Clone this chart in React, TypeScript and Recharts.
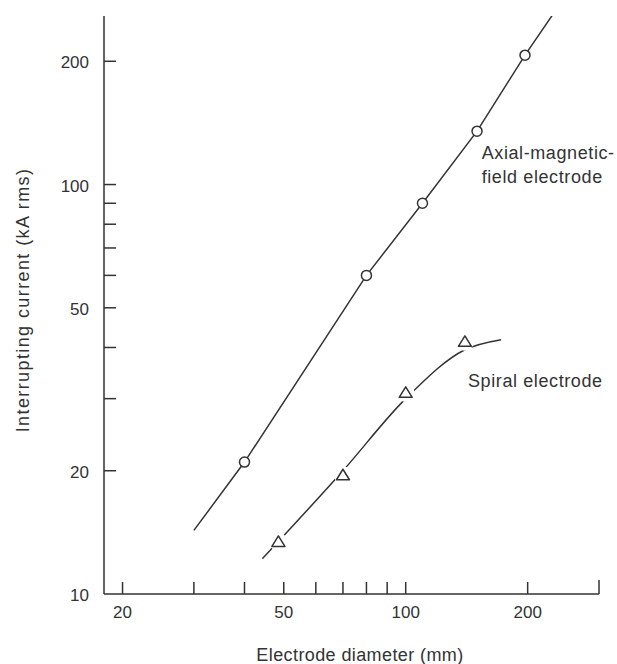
import React from 'react';
import { ComposedChart, Line, Scatter, XAxis, YAxis, ReferenceDot } from 'recharts';

// ---- data ----
const xTicks = [20, 30, 40, 50, 60, 70, 80, 90, 100, 200, 300];
const xLabeled = [20, 50, 100, 200];
const yTicks = [10, 20, 30, 40, 50, 60, 70, 80, 90, 100, 200];
const yLabeled = [10, 20, 50, 100, 200];

const axialPoints = [
  { x: 40, y: 21 },
  { x: 80, y: 60 },
  { x: 110, y: 90 },
  { x: 150, y: 135 },
  { x: 197, y: 207 },
];
const axialLine = [
  { x: 30, y: 14.3 },
  { x: 40, y: 21 },
  { x: 80, y: 60 },
  { x: 110, y: 90 },
  { x: 150, y: 135 },
  { x: 197, y: 207 },
  { x: 230, y: 259 },
];
const spiralPoints = [
  { x: 48.5, y: 13.4 },
  { x: 70, y: 19.5 },
  { x: 100, y: 31 },
  { x: 140, y: 41.3 },
];
const spiralLine = [
  { x: 44.3, y: 12.2 },
  { x: 70, y: 20 },
  { x: 100, y: 30 },
  { x: 140, y: 39.5 },
  { x: 172, y: 41.8 },
];

const axialLabelAt = { x: 154, y: 115.4 };
const spiralLabelAt = { x: 142.5, y: 32 };

const INK = '#333';
const FONT = "'Liberation Sans', Arial, sans-serif";

const XTick = (props: any) => {
  const { x, y, payload } = props;
  const v = payload.value;
  const len = v === 300 ? 14 : 12;
  return (
    <g>
      <line x1={x} y1={y} x2={x} y2={y - len} stroke={INK} strokeWidth={1.5} />
      {xLabeled.includes(v) && (
        <text x={x} y={y + 24} textAnchor="middle" fontSize={17} fontFamily={FONT} fill={INK}>
          {v}
        </text>
      )}
    </g>
  );
};

const YTick = (props: any) => {
  const { x, y, payload } = props;
  const v = payload.value;
  return (
    <g>
      {v !== 10 && <line x1={x} y1={y} x2={x + 12} y2={y} stroke={INK} strokeWidth={1.5} />}
      {yLabeled.includes(v) && (
        <text x={x - 15} y={y + 7} textAnchor="end" fontSize={17} fontFamily={FONT} fill={INK}>
          {v}
        </text>
      )}
    </g>
  );
};

const CircleMark = (props: any) => {
  const { cx, cy } = props;
  return <circle cx={cx} cy={cy} r={5} fill="#fff" stroke={INK} strokeWidth={1.5} />;
};

const TriangleMark = (props: any) => {
  const { cx, cy } = props;
  return (
    <g>
      <circle cx={cx} cy={cy} r={9} fill="#fff" />
      <polygon
        points={`${cx},${cy - 6} ${cx - 6.5},${cy + 4.5} ${cx + 6.5},${cy + 4.5}`}
        fill="#fff"
        stroke={INK}
        strokeWidth={1.5}
        strokeLinejoin="round"
      />
    </g>
  );
};

const AxialLabel = (props: any) => {
  const { cx, cy } = props;
  return (
    <g fontFamily={FONT} fontSize={18} fill={INK} letterSpacing={0.6}>
      <text x={cx} y={cy}>Axial-magnetic-</text>
      <text x={cx} y={cy + 24}>field electrode</text>
    </g>
  );
};

const SpiralLabel = (props: any) => {
  const { cx, cy } = props;
  return (
    <text x={cx} y={cy} fontFamily={FONT} fontSize={18} fill={INK} letterSpacing={0.6}>
      Spiral electrode
    </text>
  );
};

export default function App() {
  return (
    <div style={{ position: 'absolute', left: 0, top: 0, width: 617, height: 664, background: '#fff' }}>
      <ComposedChart width={617} height={664} margin={{ top: 16, right: 18, bottom: 40, left: 44 }}>
        <XAxis
          dataKey="x"
          type="number"
          scale="log"
          domain={[18, 300]}
          allowDataOverflow
          ticks={xTicks}
          interval={0}
          tick={<XTick />}
          tickLine={false}
          tickSize={0}
          tickMargin={0}
          height={30}
          axisLine={{ stroke: INK, strokeWidth: 1.5 }}
        />
        <YAxis
          dataKey="y"
          type="number"
          scale="log"
          domain={[10, 258]}
          allowDataOverflow
          ticks={yTicks}
          interval={0}
          tick={<YTick />}
          tickLine={false}
          tickSize={0}
          tickMargin={0}
          width={60}
          axisLine={{ stroke: INK, strokeWidth: 1.5 }}
        />
        <Line
          data={axialLine}
          dataKey="y"
          type="linear"
          stroke={INK}
          strokeWidth={1.5}
          dot={false}
          activeDot={false}
          isAnimationActive={false}
        />
        <Line
          data={spiralLine}
          dataKey="y"
          type="monotone"
          stroke={INK}
          strokeWidth={1.5}
          dot={false}
          activeDot={false}
          isAnimationActive={false}
        />
        <Scatter data={axialPoints} dataKey="y" shape={<CircleMark />} isAnimationActive={false} />
        <Scatter data={spiralPoints} dataKey="y" shape={<TriangleMark />} isAnimationActive={false} />
        <ReferenceDot x={axialLabelAt.x} y={axialLabelAt.y} r={0} shape={<AxialLabel />} />
        <ReferenceDot x={spiralLabelAt.x} y={spiralLabelAt.y} r={0} shape={<SpiralLabel />} />
        <text
          x={29}
          y={300}
          transform="rotate(-90, 29, 300)"
          textAnchor="middle"
          fontFamily={FONT}
          fontSize={18}
          letterSpacing={1.4}
          fill={INK}
        >
          Interrupting current (kA rms)
        </text>
        <text x={360} y={661} textAnchor="middle" fontFamily={FONT} fontSize={18} letterSpacing={0.4} fill={INK}>
          Electrode diameter (mm)
        </text>
      </ComposedChart>
    </div>
  );
}
